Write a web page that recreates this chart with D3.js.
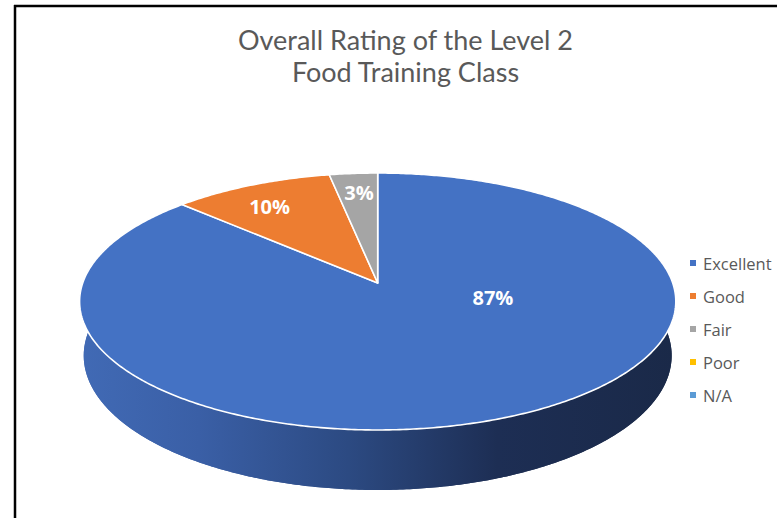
<!DOCTYPE html>
<html><head><meta charset="utf-8">
<script src="https://cdn.jsdelivr.net/npm/d3@7"></script>
<style>html,body{margin:0;padding:0;background:#fff;}svg{display:block;}</style>
</head><body>
<svg id="chart" width="777" height="518"></svg>
<script>
const categories = ["Excellent","Good","Fair","Poor","N/A"];
const values = [87,10,3,0,0];
const colors = ["#4472C4","#ED7D31","#A5A5A5","#FFC000","#5B9BD5"];
const titleLines = ["Overall Rating of the Level 2","Food Training Class"];

const svg = d3.select("#chart");
const W = 777, H = 518;

// frame lines (top and left)
svg.append("line").attr("x1",14).attr("x2",W).attr("y1",6).attr("y2",6).attr("stroke","#000").attr("stroke-width",2.5);
svg.append("line").attr("x1",15).attr("x2",15).attr("y1",5).attr("y2",H).attr("stroke","#000").attr("stroke-width",2.5);

// title
const title = svg.append("text").attr("text-anchor","middle").attr("fill","#595959")
  .style("font-family","Lato, 'Open Sans', sans-serif").style("font-size","27px");
titleLines.forEach((t,i)=>title.append("tspan").attr("x",405.5).attr("y",50+i*32).text(t));

// 3D projection
const cx = 377.7, cy = 283, S = 295, D = 6.286;
const sp = 0.4265, cp = 0.9045, depth = 0.2033;
function proj(theta, r, h){
  const u = r*Math.sin(theta), v = r*Math.cos(theta);
  const z = D + v*cp - h*sp;
  const yc = v*sp + h*cp;
  return [cx + S*D*u/z, cy - S*D*yc/z];
}
function arcPts(a0, a1, r, h){
  const n = Math.max(2, Math.ceil(Math.abs(a1-a0)/0.01));
  return d3.range(n+1).map(i => proj(a0 + (a1-a0)*i/n, r, h));
}
const line = d3.line();

const pie = d3.pie().sort(null).value(d=>d);
const arcs = pie(values);

// side gradient
const defs = svg.append("defs");
const grad = defs.append("linearGradient").attr("id","sideGrad")
  .attr("gradientUnits","userSpaceOnUse").attr("x1",80).attr("x2",676).attr("y1",0).attr("y2",0);
[[0,"#416ab5"],[0.2,"#3a5fa6"],[0.45,"#2c4a82"],[0.7,"#1d2e54"],[1,"#1a2948"]].forEach(s=>
  grad.append("stop").attr("offset",s[0]).attr("stop-color",s[1]));

const g = svg.append("g");
// side wall: front part (visible side belongs to the first slice)
const a0 = Math.PI*0.4, a1 = Math.PI*1.6;
const sidePts = arcPts(a0, a1, 1, 0).concat(arcPts(a1, a0, 1, -depth));
g.append("path").attr("d", line(sidePts)+"Z").attr("fill","url(#sideGrad)");
g.append("path").attr("d", line(arcPts(0, 2*Math.PI, 1, -depth))+"Z").attr("fill","url(#sideGrad)");

// top faces
g.selectAll("path.slice").data(arcs.filter(d=>d.value>0)).join("path")
  .attr("class","slice")
  .attr("d", d => line([proj(0,0,0)].concat(arcPts(d.startAngle, d.endAngle, 1, 0)))+"Z")
  .attr("fill", d => colors[d.index])
  .attr("stroke","#fff").attr("stroke-width",1.6).attr("stroke-linejoin","round");

// labels
const labelPlace = [{r:0.40, a:106},{r:0.78, a:329},{r:0.81, a:355}];
g.selectAll("text.lbl").data(arcs.filter(d=>d.value>0)).join("text")
  .attr("class","lbl")
  .each(function(d){
    const lp = labelPlace[d.index];
    const ang = lp.a !== undefined ? lp.a*Math.PI/180 : (d.startAngle+d.endAngle)/2;
    const p = proj(ang, lp.r, 0);
    d3.select(this).attr("x",p[0]).attr("y",p[1]);
  })
  .attr("text-anchor","middle").attr("dominant-baseline","central")
  .attr("fill","#fff").style("font-family","'Open Sans', sans-serif")
  .style("font-weight","bold").style("font-size","20px")
  .text(d => Math.round(d.value/d3.sum(values)*100)+"%");

// legend
const ly = d3.scalePoint().domain(categories).range([263,395]);
const leg = svg.append("g").selectAll("g").data(categories).join("g")
  .attr("transform", d => `translate(690,${ly(d)})`);
leg.append("rect").attr("x",0).attr("y",-3).attr("width",6).attr("height",6)
  .attr("fill",(d,i)=>colors[i]);
leg.append("text").attr("x",13).attr("y",0).attr("dominant-baseline","central")
  .attr("fill","#595959").style("font-family","'Open Sans', sans-serif").style("font-size","16.5px")
  .text(d=>d);
</script>
</body></html>
